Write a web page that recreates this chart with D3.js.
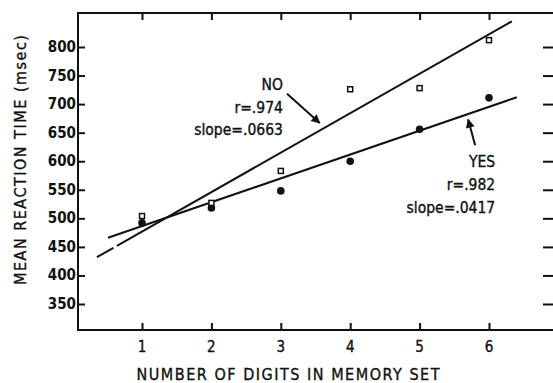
<!DOCTYPE html>
<html><head><meta charset="utf-8">
<script src="https://cdn.jsdelivr.net/npm/d3@7"></script>
<style>
html,body{margin:0;padding:0;background:#fff;}
text{font-family:'DejaVu Sans Condensed','Liberation Sans Narrow',sans-serif;font-stretch:condensed;fill:#111;stroke:#111;stroke-width:0.35;}
</style></head>
<body><svg id="c" width="553" height="383"></svg>
<script>
const setSizes = [1, 2, 3, 4, 5, 6];
const noRT  = [504, 527, 583, 726, 728, 812];
const yesRT = [492, 518, 548, 600, 656, 711];
const yTicks = [350, 400, 450, 500, 550, 600, 650, 700, 750, 800];
const xTicks = [1, 2, 3, 4, 5, 6];
// fitted lines (endpoints as drawn)
const noLine  = [[0.35, 432], [6.33, 845]];
const yesLine = [[0.51, 466], [6.40, 712]];
const noLabel  = ["NO", "r=.974", "slope=.0663"];
const yesLabel = ["YES", "r=.982", "slope=.0417"];

const svg = d3.select("#c");
const x = d3.scaleLinear().domain([1, 6]).range([142, 489]);
const y = d3.scaleLinear().domain([350, 800]).range([304, 47]);
const L = 78, R = 553, T = 13, B = 330;
const ink = "#111";

// frame
svg.append("path").attr("d", `M${R},${T}H${L}V${B}H${R}`)
  .attr("fill", "none").attr("stroke", ink).attr("stroke-width", 2);

// left axis
const la = svg.append("g").attr("transform", `translate(${L},0)`)
  .call(d3.axisRight(y).tickValues(yTicks).tickSize(7).tickFormat(""));
la.select(".domain").remove();
la.selectAll("line").attr("stroke", ink).attr("stroke-width", 2);
svg.selectAll(".ylab").data(yTicks).join("text")
  .attr("x", L - 2).attr("y", d => y(d) + 5)
  .attr("text-anchor", "end").attr("font-size", 15).attr("font-weight", "bold")
  .style("stroke-width", 0)
  .text(d => d);
// right ticks
const ra = svg.append("g").attr("transform", `translate(${R},0)`)
  .call(d3.axisLeft(y).tickValues(yTicks).tickSize(10).tickFormat(""));
ra.select(".domain").remove();
ra.selectAll("line").attr("stroke", ink).attr("stroke-width", 2);
// bottom ticks
const ba = svg.append("g").attr("transform", `translate(0,${B})`)
  .call(d3.axisTop(x).tickValues(xTicks).tickSize(7).tickFormat(""));
ba.select(".domain").remove();
ba.selectAll("line").attr("stroke", ink).attr("stroke-width", 2);
svg.selectAll(".xlab").data(xTicks).join("text")
  .attr("x", d => x(d)).attr("y", 352)
  .attr("text-anchor", "middle").attr("font-size", 15)
  .text(d => d);
// top ticks
const ta = svg.append("g").attr("transform", `translate(0,${T})`)
  .call(d3.axisBottom(x).tickValues(xTicks).tickSize(7).tickFormat(""));
ta.select(".domain").remove();
ta.selectAll("line").attr("stroke", ink).attr("stroke-width", 2);

// titles
svg.append("text").attr("x", 288).attr("y", 380).attr("text-anchor", "middle")
  .attr("font-size", 16).attr("textLength", 303).attr("lengthAdjust", "spacing")
  .text("NUMBER OF DIGITS IN MEMORY SET");
svg.append("text").attr("transform", "translate(26,160) rotate(-90)")
  .attr("text-anchor", "middle").attr("font-size", 16)
  .attr("textLength", 250).attr("lengthAdjust", "spacing")
  .text("MEAN REACTION TIME (msec)");

// regression lines
const line = d3.line().x(d => x(d[0])).y(d => y(d[1]));
svg.append("path").attr("d", line(noLine)).attr("fill", "none")
  .attr("stroke", ink).attr("stroke-width", 2).attr("stroke-dasharray", "19,4,2000");
svg.append("path").attr("d", line(yesLine)).attr("fill", "none")
  .attr("stroke", ink).attr("stroke-width", 2);

// points
svg.selectAll(".yes").data(setSizes).join("circle")
  .attr("cx", d => x(d)).attr("cy", (d, i) => y(yesRT[i])).attr("r", 3.8).attr("fill", ink);
svg.selectAll(".no").data(setSizes).join("rect")
  .attr("x", d => x(d) - 2.5).attr("y", (d, i) => y(noRT[i]) - 2.5)
  .attr("width", 5).attr("height", 5).attr("fill", "#fff")
  .attr("stroke", ink).attr("stroke-width", 1.5);

// arrows
const defs = svg.append("defs");
defs.append("marker").attr("id", "ah").attr("viewBox", "0 0 10 10")
  .attr("refX", 9).attr("refY", 5).attr("markerWidth", 5).attr("markerHeight", 4.5)
  .attr("markerUnits", "strokeWidth").attr("orient", "auto")
  .append("path").attr("d", "M0,0L10,5L0,10Z").attr("fill", ink);
const arrows = [[[3.09, 718], [3.56, 667]], [[5.80, 628], [5.70, 673]]];
arrows.forEach(a => {
  svg.append("line").attr("x1", x(a[0][0])).attr("y1", y(a[0][1]))
    .attr("x2", x(a[1][0])).attr("y2", y(a[1][1]))
    .attr("stroke", ink).attr("stroke-width", 2).attr("marker-end", "url(#ah)");
});

// labels
const noPos = [[3.03, 725], [3.03, 684], [3.03, 646]];
noLabel.forEach((t, i) => svg.append("text").attr("x", x(noPos[i][0])).attr("y", y(noPos[i][1]))
  .attr("text-anchor", "end").attr("font-size", 15.5).text(t));
const yesPos = [[6.09, 590], [6.09, 550], [6.09, 509]];
yesLabel.forEach((t, i) => svg.append("text").attr("x", x(yesPos[i][0])).attr("y", y(yesPos[i][1]))
  .attr("text-anchor", "end").attr("font-size", 15.5).text(t));
</script></body></html>
